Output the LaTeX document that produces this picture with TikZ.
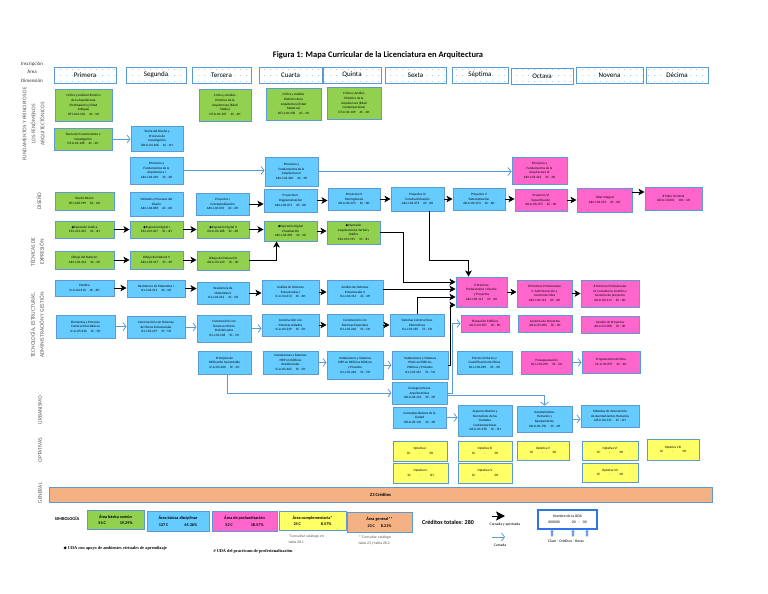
\documentclass[tikz,border=0pt]{standalone}
\usepackage{fontspec}
\setmainfont{Carlito}
\newfontfamily\symfont{DejaVu Sans}
\newfontfamily\notafont{Liberation Serif}
\usetikzlibrary{arrows.meta, patterns.meta}
\definecolor{udaborde}{RGB}{91,155,213}
\definecolor{verde}{RGB}{146,208,80}
\definecolor{azul}{RGB}{102,204,255}
\definecolor{rosa}{RGB}{255,102,204}
\definecolor{amarillo}{RGB}{255,255,102}
\definecolor{naranja}{RGB}{244,177,131}
\definecolor{gris}{RGB}{89,89,89}
\definecolor{muestra}{RGB}{47,117,230}
\newcommand{\vrt}{{\symfont\char"25C6}}

\tikzdeclarepattern{
  name=semdots, type=uncolored,
  bounding box={(0pt,0pt) and (6pt,5.5pt)},
  tile size={(6pt,5.5pt)},
  code={\fill (0pt,0pt) rectangle (1.3pt,0.7pt);}
}

\tikzset{
  uda/.style={draw=udaborde, line width=0.9pt, align=center, inner sep=0.5pt,
    font=\fontsize{3.3}{4.6}\selectfont},
  basica/.style={uda, fill=verde},
  disciplinar/.style={uda, fill=azul},
  profund/.style={uda, fill=rosa},
  complem/.style={uda, fill=amarillo},
  wh/.style 2 args={minimum width=#1, minimum height=#2},
  semestre/.style={draw=udaborde, line width=0.9pt, pattern={semdots},
    pattern color=udaborde!75, inner sep=0pt, font=\fontsize{7}{8}\selectfont},
  dimension/.style={rotate=90, align=center, text=gris, font=\fontsize{5.5}{9}\selectfont},
  leyenda/.style={draw=udaborde, line width=0.9pt, align=center, inner sep=0.5pt,
    font=\bfseries\fontsize{4.2}{6.5}\selectfont},
  apr/.style={-{Stealth[length=6pt,width=6.5pt,inset=1.5pt]}, line width=1pt, black},
  cur/.style={-{Straight Barb[length=3pt,width=8pt]}, line width=0.8pt, udaborde},
}

\begin{document}
\begin{tikzpicture}[x=1pt, y=-1pt]
  \useasboundingbox (0,0) rectangle (768,594);

  % Title
  \node[font=\bfseries\fontsize{8.5}{10}\selectfont] (titulo) at (378,55)
    {Figura 1: Mapa Curricular de la Licenciatura en Arquitectura};

  % Semesters
  \node[font=\fontsize{5}{8.5}\selectfont, align=center, text=black!80] (insc) at (32,72)
    {Inscripción\\Área\\Dimensión};
  \node[semestre, wh={62}{16}] (s1) at (85,75) {Primera};
  \node[semestre, wh={60}{16}] (s2) at (156,75) {Segunda};
  \node[semestre, wh={59}{16}] (s3) at (221.5,75) {Tercera};
  \node[semestre, wh={63}{16}] (s4) at (290.5,75) {Cuarta};
  \node[semestre, wh={58}{16}] (s5) at (352,75) {Quinta};
  \node[semestre, wh={61}{16}] (s6) at (415.5,75) {Sexta};
  \node[semestre, wh={56}{16}] (s7) at (480,75) {Séptima};
  \node[semestre, wh={62}{16}] (s8) at (542,76) {Octava};
  \node[semestre, wh={67}{16}] (s9) at (609.5,75) {Novena};
  \node[semestre, wh={62}{16}] (s10) at (677,75) {Décima};

  % Dimensions
  \node[dimension] (dfun) at (34,124) {FUNDAMENTOS Y PRINCIPIOS DE\\LOS FENÓMENOS\\ARQUITECTÓNICOS};
  \node[dimension] (ddis) at (39,201) {DISEÑO};
  \node[dimension] (dtec) at (37,252) {TÉCNICAS DE\\EXPRESIÓN};
  \node[dimension] (dtgs) at (37,325) {TECNOLOGÍA, ESTRUCTURAS,\\ADMINISTRACIÓN Y GESTIÓN};
  \node[dimension] (durb) at (40,410) {URBANISMO};
  \node[dimension] (dopt) at (40,450) {OPTATIVAS};
  \node[dimension] (dgen) at (40,493) {GENERAL};

  % Fundamentos
  \node[basica, wh={57}{32}] (cah1) at (83.5,105)
    {Crítica y Análisis Histórico\\de la Arquitectura\\(Prehispánica y Edad\\Antigua)\\DT-LI-04-104 \quad 4C - 4H};
  \node[basica, wh={58}{22}] (tci) at (83,139)
    {Teoría del Conocimiento e\\Investigación\\DT-LI-04-108 \quad 4C - 4H};
  \node[disciplinar, wh={52}{25}] (tdpi) at (157,138.5)
    {Teoría del Diseño y\\Procesos de\\Investigación\\DR-LI-04-106 \quad 4C - 4H};
  \node[basica, wh={52}{32}] (cah2) at (225,105)
    {Crítica y Análisis\\Histórico de la\\Arquitectura (Edad\\Media)\\DT-LI-04-107 \quad 4C - 4H};
  \node[basica, wh={55}{32}] (cah3) at (293.5,104)
    {Crítica y Análisis\\Histórico de la\\Arquitectura (Edad\\Moderna)\\DT-LI-04-108 \quad 4C - 4H};
  \node[basica, wh={54}{32}] (cah4) at (354,103)
    {Crítica y Análisis\\Histórico de la\\Arquitectura (Edad\\Contemporánea)\\DT-LI-04-109 \quad 4C - 4H};
  \node[disciplinar, wh={53}{27}] (pfa1) at (156.5,170.5)
    {Principios y\\Fundamentos de la\\Arquitectura I\\AR-LI-03-210 \quad 3C - 3H};
  \node[disciplinar, wh={53}{29}] (pfa2) at (291.5,171.5)
    {Principios y\\Fundamentos de la\\Arquitectura II\\AR-LI-03-220 \quad 3C - 3H};
  \node[profund, wh={55}{27}] (pfa3) at (539.5,170.5)
    {Principios y\\Fundamentos de la\\Arquitectura III\\AR-LI-03-222 \quad 3C - 3H};

  % Diseño
  \node[basica, wh={59}{18}] (db) at (84.5,201) {Diseño Básico\\DT-LI-08-999 \quad 8C - 6H};
  \node[disciplinar, wh={53}{24}] (mpd) at (156.5,204)
    {Métodos y Procesos del\\Diseño\\AR-LI-06-869 \quad 6C - 6H};
  \node[disciplinar, wh={53}{22}] (p1) at (222.5,204)
    {Proyectos I\\Conceptualización\\AR-LI-06-070 \quad 6C - 6H};
  \node[disciplinar, wh={53}{23}] (p2) at (290.5,200.5)
    {Proyectos II\\Diagramatización\\AR-LI-06-071 \quad 6C - 6H};
  \node[disciplinar, wh={52}{22}] (p3) at (354,199)
    {Proyectos III\\Morfogénesis\\AR-LI-06-072 \quad 6C - 6H};
  \node[disciplinar, wh={53}{24}] (p4) at (417.5,199)
    {Proyectos IV\\Constructivización\\AR-LI-06-073 \quad 6C - 6H};
  \node[disciplinar, wh={52}{22}] (p5) at (479,199)
    {Proyectos V\\Sistematización\\AR-LI-06-074 \quad 6C - 6H};
  \node[profund, wh={52}{22}] (p6) at (541,200)
    {Proyectos VI\\Especificación\\AR-LI-06-075 \quad 6C - 6H};
  \node[profund, wh={55}{24}] (ti) at (604.5,200) {Taller Integral\\AR-LI-06-076 \quad 6C - 6H};
  \node[profund, wh={57}{23}] (tt) at (673.5,198.5) {\# Taller Terminal\\AR-LI-10-001 \quad 10C - 4H};

  % Técnicas de expresión
  \node[basica, wh={59}{17}] (eg) at (84.5,229.5) {\vrt Expresión Gráfica\\EX-LI-03-105 \quad 3C - 4H};
  \node[basica, wh={53}{17}] (ed1) at (156.5,229.5) {\vrt Expresión Digital I\\EX-LI-03-107 \quad 3C - 4H};
  \node[basica, wh={52}{17}] (ed2) at (223,229.5) {\vrt Expresión Digital II\\EX-LI-03-108 \quad 3C - 4H};
  \node[basica, wh={53}{20}] (edv) at (290.5,231)
    {\vrt Expresión Digital\\Visualización\\AR-LI-06-209 \quad 3C - 4H};
  \node[basica, wh={53}{23}] (eav) at (353.5,232.5)
    {\vrt Expresión\\Arquitectónica Verbal y\\Gráfica\\EX-LI-03-195 \quad 3C - 3H};
  \node[basica, wh={59}{18}] (dn1) at (84.5,260) {Dibujo del Natural I\\AR-LI-03-216 \quad 3C - 3H};
  \node[basica, wh={53}{18}] (dn2) at (156.5,260) {Dibujo del Natural II\\AR-LI-03-217 \quad 3C - 3H};
  \node[basica, wh={52}{19}] (dn3) at (223,260.5) {Dibujo del Natural III\\AR-LI-03-219 \quad 3C - 3H};

  % Tecnología, estructuras, administración y gestión
  \node[disciplinar, wh={59}{16}] (est) at (84.5,288) {Estática\\IC-LI-04-310 \quad 4C - 4H};
  \node[disciplinar, wh={58}{17}] (rm1) at (156,288.5)
    {Resistencia de Materiales I\\IC-LI-04-311 \quad 4C - 4H};
  \node[disciplinar, wh={52}{22}] (rm2) at (223,293)
    {Resistencia de\\Materiales II\\IC-LI-04-312 \quad 4C - 4H};
  \node[disciplinar, wh={57}{24}] (ase1) at (290.5,292)
    {Análisis de Sistemas\\Estructurales I\\IC-LI-04-313 \quad 4C - 4H};
  \node[disciplinar, wh={56}{24}] (ase2) at (355,292)
    {Análisis de Sistemas\\Estructurales II\\IC-LI-04-314 \quad 4C - 4H};
  \node[profund, wh={51}{30}] (pp1) at (481.5,292)
    {\# Prácticas\\Profesionales I: Diseño\\y Proyectos\\AR-LI-06-111 \quad 6C - 6H};
  \node[profund, wh={55}{27}] (pp2) at (544.5,293.5)
    {\# Prácticas Profesionales\\II: Administración y\\Control de Obra\\AR-LI-06-112 \quad 6C - 6H};
  \node[profund, wh={58}{27}] (pp3) at (610,293.5)
    {\# Prácticas Profesionales\\III: Consultoría, Gestión y\\Gerencia de proyectos\\AR-LI-06-113 \quad 6C - 6H};

  \node[disciplinar, wh={59}{23}] (epc) at (85.5,326.5)
    {Elementos y Procesos\\Constructivos Básicos\\IC-LI-05-236 \quad 5C - 5H};
  \node[disciplinar, wh={58}{22}] (cme) at (156,327)
    {Construcción con Sistemas\\de Muros Estructurales\\IC-LI-05-237 \quad 5C - 5H};
  \node[disciplinar, wh={54}{27}] (cmp) at (224,328.5)
    {Construcción con\\Sistemas Mixtos\\Prefabricados\\IC-LI-05-238 \quad 5C - 5H};
  \node[disciplinar, wh={57}{22}] (csa) at (290.5,325)
    {Construcción con\\Sistemas Aislados\\IC-LI-05-239 \quad 5C - 5H};
  \node[disciplinar, wh={56}{22}] (cse) at (355,325)
    {Construcción con\\Sistemas Especiales\\IC-LI-05-240 \quad 5C - 5H};
  \node[disciplinar, wh={54}{22}] (sca) at (417,325)
    {Sistemas Constructivos\\Alternativos\\IC-LI-05-185 \quad 5C - 5H};
  \node[profund, wh={48}{17}] (pe) at (485,323.5) {Planeación Edificios\\AR-LI-03-187 \quad 3C - 3H};
  \node[profund, wh={54}{17}] (gp) at (545,323.5) {Gerencia de Proyectos\\AR-LI-03-096 \quad 3C - 3H};
  \node[profund, wh={58}{17}] (gsp) at (610,324.5) {Gestión de Proyectos\\AR-LI-03-098 \quad 3C - 3H};

  \node[disciplinar, wh={53}{23}] (pes) at (224.5,362.5)
    {Principios de\\Edificación Sustentable\\IC-LI-05-460 \quad 5C - 5H};
  \node[disciplinar, wh={55}{23}] (imr) at (290.5,362.5)
    {Instalaciones y Sistemas\\MEP en Edificios\\Residenciales\\IC-LI-05-465 \quad 5C - 5H};
  \node[disciplinar, wh={56}{28}] (imp) at (355,365)
    {Instalaciones y Sistemas\\MEP en Edificios Públicos\\y Privados\\IC-LI-05-466 \quad 5C - 5H};
  \node[disciplinar, wh={56}{28}] (ihv) at (420,365)
    {Instalaciones y Sistemas\\HVAC en Edificios\\Públicos y Privados\\IC-LI-05-467 \quad 5C - 5H};
  \node[disciplinar, wh={55}{23}] (pcu) at (484.5,362.5)
    {Precios Unitarios y\\Cuantificación de Obras\\DL-LI-03-094 \quad 3C - 3H};
  \node[profund, wh={51}{23}] (pres) at (546.5,362.5) {Presupuestación\\DL-LI-03-095 \quad 3C - 3H};
  \node[profund, wh={58}{22}] (pro) at (611,362) {Programación de Obra\\DL-LI-03-097 \quad 3C - 3H};
  \node[disciplinar, wh={55}{22}] (eua) at (419.5,393)
    {Ecología Urbana\\Arquitectónica\\UR-LI-03-321 \quad 3C - 3H};

  % Urbanismo
  \node[disciplinar, wh={53}{21}] (cbc) at (419.5,417.5)
    {Conceptos Básicos de la\\Ciudad\\UR-LI-03-110 \quad 3C - 3H};
  \node[disciplinar, wh={54}{31}] (abn) at (485,420.5)
    {Aspectos Básicos y\\Normativos de las\\Ciudades\\Contemporáneas\\UR-LI-05-190 \quad 3C - 3H};
  \node[disciplinar, wh={55}{26}] (ahe) at (544.5,419)
    {Asentamientos\\Humanos y\\Equipamiento\\UR-LI-04-150 \quad 4C - 4H};
  \node[disciplinar, wh={58}{22}] (mia) at (610,416)
    {Métodos de Intervención\\de Asentamientos Humanos\\UR-LI-04-151 \quad 4C - 4H};

  % Optativas
  \node[complem, wh={54}{20}] (op1) at (420,451) {Optativa I\\3C\hspace{9pt}-\hspace{9pt}3H};
  \node[complem, wh={55}{20}] (op2) at (420.5,473) {Optativa II\\3C\hspace{9pt}-\hspace{9pt}3H};
  \node[complem, wh={54}{20}] (op3) at (485,451) {Optativa III\\3C\hspace{9pt}-\hspace{9pt}3H};
  \node[complem, wh={54}{20}] (op4) at (485,473) {Optativa IV\\3C\hspace{9pt}-\hspace{9pt}3H};
  \node[complem, wh={52}{19}] (op5) at (543,450.5) {Optativa V\\3C\hspace{9pt}-\hspace{9pt}3H};
  \node[complem, wh={56}{19}] (op6) at (610,450.5) {Optativa VI\\3C\hspace{9pt}-\hspace{9pt}3H};
  \node[complem, wh={56}{19}] (op7) at (610,472.5) {Optativa VII\\3C\hspace{9pt}-\hspace{9pt}3H};
  \node[complem, wh={52}{21}] (op8) at (673,449.5) {Optativa VIII\\3C\hspace{9pt}-\hspace{9pt}3H};

  % General
  \node[uda, fill=naranja, wh={663}{15}, font=\bfseries\fontsize{4.5}{5}\selectfont] (gen) at (380.5,494.5)
    {23 Créditos};

  % Cursada y aprobada
  \draw[apr] (p1.east) -- (p1.east -| p2.west);
  \draw[apr] (p2.east) -- (p2.east -| p3.west);
  \draw[apr] (p3.east) -- (p3.east -| p4.west);
  \draw[apr] (p4.east) -- (p4.east -| p5.west);
  \draw[apr] (p5.east) -- (p5.east -| p6.west);
  \draw[apr] (p6.east) -- (p6.east -| ti.west);
  \draw[apr] ([yshift=8pt]ti.east) -- ([yshift=8pt]ti.east -| tt.west);
  \draw[apr] (eg.east) -- (eg.east -| ed1.west);
  \draw[apr] (ed1.east) -- (ed1.east -| ed2.west);
  \draw[apr] (ed2.east) -- (ed2.east -| edv.west);
  \draw[apr] (edv.east) -- (edv.east -| eav.west);
  \draw[apr] (dn1.east) -- (dn1.east -| dn2.west);
  \draw[apr] (dn2.east) -- (dn2.east -| dn3.west);
  \draw[apr] (dn3.east) -| ([xshift=-14pt]edv.south);
  \draw[apr] (est.east) -- (est.east -| rm1.west);
  \draw[apr] (rm1.east) -- (rm1.east -| rm2.west);
  \draw[apr] (rm2.east) -- (rm2.east -| ase1.west);
  \draw[apr] (ase1.east) -- (ase1.east -| ase2.west);
  \draw[apr] (csa.east) -- (csa.east -| cse.west);
  \draw[apr] (cse.east) -- (cse.east -| sca.west);
  \draw[apr] ([yshift=3pt]ase2.east) -- ([yshift=3pt]ase2.east -| pp1.west);
  \draw[apr] (eav.east) -- ++(23,0) |- ([yshift=10pt]pp1.west);
  \draw[apr] ([xshift=12pt]p4.south) -- ++(0,49) -| ([xshift=-13pt]pp1.north);
  \draw[apr] (sca.north) |- ([yshift=-5pt]pp1.west);
  \draw[apr] (ihv.east) -- ++(2,0) |- ([yshift=-13pt]pp1.west);
  \draw[apr] (pp1.east) -- (pp1.east -| pp2.west);
  \draw[apr] (pp2.east) -- (pp2.east -| pp3.west);

  % Cursada
  \draw[cur] (tci.east) -- (tci.east -| tdpi.west);
  \draw[cur] (pfa1.east) -- (pfa1.east -| pfa2.west);
  \draw[cur] (pfa2.east) -- (pfa2.east -| pfa3.west);
  \draw[cur] (epc.east) -- (epc.east -| cme.west);
  \draw[cur] (cme.east) -- (cme.east -| cmp.west);
  \draw[cur] (cmp.east) -- (cmp.east -| csa.west);
  \draw[cur] (imr.east) -- (imr.east -| imp.west);
  \draw[cur] (imp.east) -- (imp.east -| ihv.west);
  \draw[cur] ([xshift=2.5pt]pes.south) |- (eua.west);
  \draw[cur] (eua.east) -- ++(5,0) |- (pe.west);
  \draw[cur] ([yshift=-2pt]eua.east) -| (ahe.north);
  \draw[cur] (cbc.east) -- (cbc.east -| abn.west);
  \draw[cur] (ahe.east) -- (ahe.east -| mia.west);
  \draw[cur] (pres.east) -- (pres.east -| pro.west);

  % Simbología
  \node[font=\bfseries\fontsize{4.5}{5}\selectfont] (simb) at (67,519) {SIMBOLOGÍA};
  \node[leyenda, fill=verde, wh={57}{19}] (lbc) at (115.5,519.5)
    {Área básica común\\54 C\hspace{14pt}19.29\%};
  \node[leyenda, fill=azul, wh={62}{20}] (lbd) at (178,521)
    {Área básica disciplinar\\127 C\hspace{16pt}45.36\%};
  \node[leyenda, fill=rosa, wh={65}{20}] (lpr) at (244.5,521)
    {Área de profundización\\52 C\hspace{18pt}18.57\%};
  \node[leyenda, fill=amarillo, wh={67}{19}] (lco) at (312.5,520.5)
    {Área complementaria*\\24 C\hspace{20pt}8.57\%};
  \node[leyenda, fill=naranja, wh={65}{20}] (lge) at (379.5,522)
    {Área general**\\23 C\hspace{6pt}8.21\%};
  \node[anchor=north west, align=left, text=gris, font=\fontsize{3.8}{6}\selectfont] (nco) at (285,531)
    {*Consultar catálogo en\\tabla 28.1};
  \node[anchor=north west, align=left, text=gris, font=\fontsize{3.8}{6}\selectfont] (nge) at (355,532)
    {**Consultar catálogo\\tabla 23 y tabla 28.2};
  \node[font=\bfseries\fontsize{6}{7}\selectfont] (ctot) at (448,522) {Créditos totales: 280};

  \coordinate (aprA) at (492,516);
  \coordinate (aprB) at (505,516);
  \draw[apr, -{Stealth[length=9pt,width=9pt,inset=2pt]}] (aprA) -- (aprB);
  \node[font=\fontsize{3.8}{4}\selectfont] (laprob) at (505,524.5) {Cursada y aprobada};
  \coordinate (curA) at (492,537);
  \coordinate (curB) at (505,537);
  \draw[cur] (curA) -- (curB);
  \node[font=\fontsize{3.8}{4}\selectfont] (lcur) at (500,545) {Cursada};

  \node[draw=muestra, line width=1.1pt, fill=white, wh={59}{19}, align=center,
    font=\fontsize{3.8}{6}\selectfont] (muda) at (567.5,519.5)
    {Nombre de la UDA\\000000\hspace{12pt}00\hspace{3pt}-\hspace{3pt}00};
  \node[font=\fontsize{3.8}{4}\selectfont] (lclave) at (566,541.5) {Clave - Créditos - Horas};
  \coordinate (cla) at (552,537);
  \coordinate (cre) at (573,537);
  \coordinate (hor) at (587,537);
  \draw[muestra!70, line width=1.4pt, {Latex[length=2.5pt,width=4pt]}-{Latex[length=2.5pt,width=4pt]}]
    (cla) -- (cla |- muda.south);
  \draw[muestra!70, line width=1.4pt, {Latex[length=2.5pt,width=4pt]}-{Latex[length=2.5pt,width=4pt]}]
    (cre) -- (cre |- muda.south);
  \draw[muestra!70, line width=1.4pt, {Latex[length=2.5pt,width=4pt]}-{Latex[length=2.5pt,width=4pt]}]
    (hor) -- (hor |- muda.south);

  % Notas
  \node[anchor=west, font=\notafont\bfseries\fontsize{4.3}{5}\selectfont] (nvrt) at (60,548)
    {\vrt\ UDA con apoyo de ambientes virtuales de aprendizaje};
  \node[anchor=west, font=\notafont\bfseries\fontsize{4.3}{5}\selectfont] (nprac) at (210,551)
    {\# UDA del practicum de profesionalización};
\end{tikzpicture}
\end{document}
